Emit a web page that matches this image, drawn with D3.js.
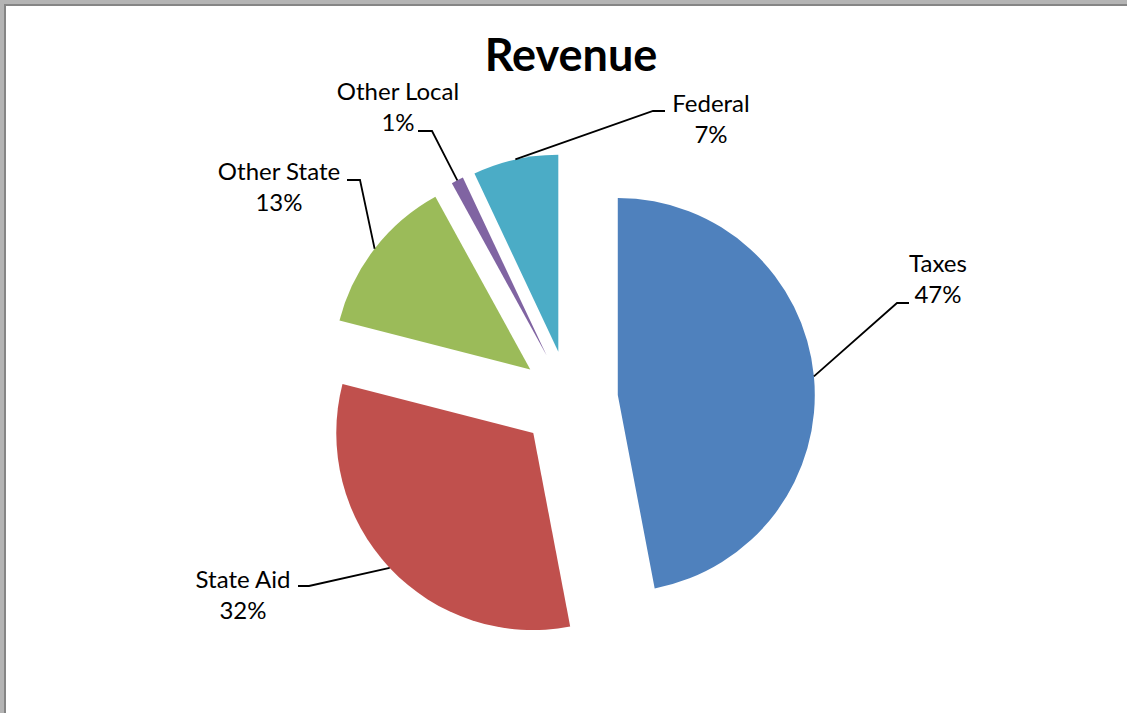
<!DOCTYPE html>
<html>
<head>
<meta charset="utf-8">
<script src="https://cdn.jsdelivr.net/npm/d3@7"></script>
<style>
  body { margin: 0; background: #b4b4b4; }
  svg { display: block; }
</style>
</head>
<body>
<svg id="chart"></svg>
<script>
// chart values
const categories = ["Taxes", "State Aid", "Other State", "Other Local", "Federal"];
const shares = [47, 32, 13, 1, 7];
const colours = ["#4f81bd", "#c0504d", "#9bbb59", "#8064a2", "#4bacc6"];

((() => {
  let width = 1127;
  let height = 713;

  let svg = d3.select("#chart").attr("width", width).attr("height", height);

  // window frame
  svg.append("rect").attr("x", 0).attr("y", 0).attr("width", width).attr("height", height).attr("fill", "#b4b4b4");
  svg.append("rect").attr("x", 4).attr("y", 4).attr("width", width).attr("height", height).attr("fill", "#858585");
  svg.append("rect").attr("x", 6).attr("y", 6).attr("width", width).attr("height", height).attr("fill", "#ffffff");

  svg.append("text")
    .attr("x", 571).attr("y", 71)
    .attr("text-anchor", "middle")
    .style("font-family", "Lato, 'Open Sans', sans-serif")
    .style("font-weight", "bold")
    .style("font-size", "45px")
    .text("Revenue");

  let cx = 569, cy = 399.5, radius = 197, explode = 49;

  let pie = d3.pie().sort(null).startAngle(0).endAngle(2 * Math.PI);
  let arcs = pie(shares);
  let arc = d3.arc().innerRadius(0).outerRadius(radius);
  let edge = d3.arc().innerRadius(radius).outerRadius(radius);

  let g = svg.append("g").attr("transform", `translate(${cx},${cy})`);

  function offset(d) {
    let a = (d.startAngle + d.endAngle) / 2;
    return [explode * Math.sin(a), -explode * Math.cos(a)];
  }

  let slices = g.selectAll("g.slice")
    .data(arcs)
    .enter()
    .append("g")
    .attr("class", "slice")
    .attr("transform", d => `translate(${offset(d)})`);

  slices.append("path")
    .attr("d", arc)
    .attr("fill", (d, i) => colours[i]);

  // label layout: text centre, first baseline, knee of leader, end of leader
  let labelPos = [
    { x: 938, y: 272, knee: [897, 303], end: [909, 303] },
    { x: 243, y: 588, knee: [309, 586], end: [298, 586] },
    { x: 279, y: 180, knee: [360, 180], end: [347, 180] },
    { x: 398, y: 100, knee: [432, 131], end: [418, 131] },
    { x: 711, y: 112, knee: [653, 111], end: [665, 111] }
  ];

  arcs.forEach((d, i) => {
    let o = offset(d);
    let c = edge.centroid(d);
    let start = [cx + o[0] + c[0], cy + o[1] + c[1]];
    let p = labelPos[i];
    svg.append("path")
      .attr("d", d3.line()([start, p.knee, p.end]))
      .attr("fill", "none")
      .attr("stroke", "#000")
      .attr("stroke-width", 1.8);

    let t = svg.append("text")
      .attr("text-anchor", "middle")
      .style("font-family", "Lato, 'Open Sans', sans-serif")
      .style("font-size", "24px")
      .attr("fill", "#000");
    t.append("tspan").attr("x", p.x).attr("y", p.y).text(categories[i]);
    t.append("tspan").attr("x", p.x).attr("y", p.y + 31).text(shares[i] + "%");
  });
})());
</script>
</body>
</html>
